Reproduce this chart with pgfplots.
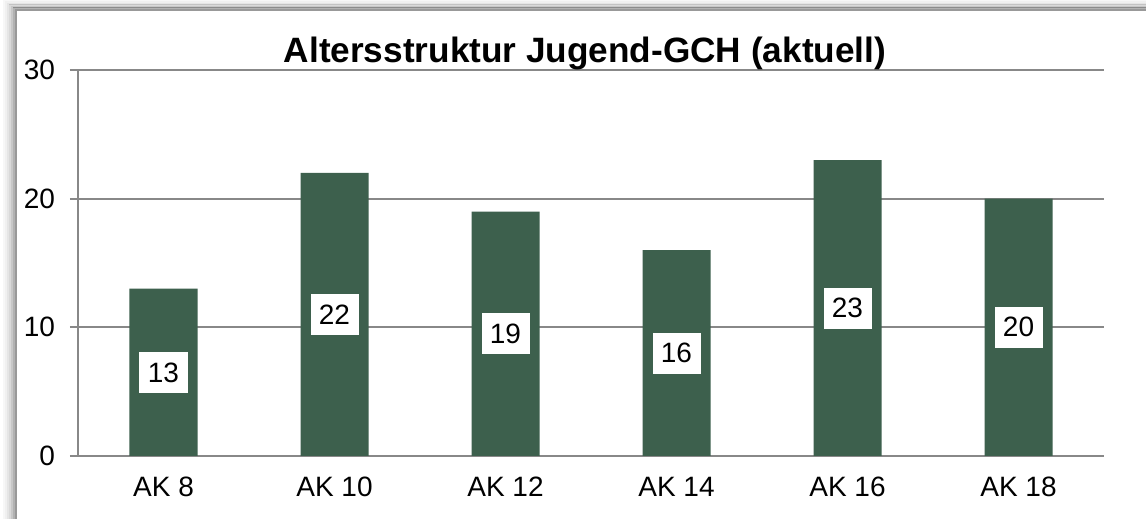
\documentclass[border=0pt]{standalone}
\usepackage{fontspec}
\setmainfont{Liberation Sans}
\usepackage{pgfplots}
\pgfplotsset{compat=1.18}
\definecolor{barc}{RGB}{61,96,77}
\definecolor{gridc}{RGB}{136,136,136}
\begin{document}
\begin{tikzpicture}
\path[use as bounding box] (0pt,0pt) rectangle (573pt,259.5pt);
\foreach \i/\o in {1/0.30,2/0.22,3/0.15,4/0.10,5/0.06,6/0.03}{
  \draw[black, opacity=\o, line width=1pt] (8pt-\i pt,0pt) -- (8pt-\i pt,254.5pt+0.8*\i pt) -- (573pt,254.5pt+0.8*\i pt);
}
\fill[white] (8pt,0pt) rectangle (573pt,254.5pt);
\draw[gray!80, line width=1pt] (8pt,0pt) -- (8pt,254.5pt) -- (573pt,254.5pt);
\begin{axis}[
  at={(39pt,31.5pt)}, anchor=south west,
  scale only axis, width=513pt, height=193pt,
  xmin=-0.5, xmax=5.5, ymin=0, ymax=30,
  ytick={0,10,20,30},
  xtick={0,...,5},
  xticklabels={AK 8, AK 10, AK 12, AK 14, AK 16, AK 18},
  minor xtick={-0.5,0.5,...,5.5},
  axis x line*=bottom, axis y line*=left,
  axis line style={-, gridc, line width=1pt},
  tick align=outside,
  major tick length=4pt, minor tick length=4pt,
  tick style={gridc, line width=1pt},
  xtick style={draw=none},
  minor x tick style={gridc, line width=1pt},
  ymajorgrids=true,
  grid style={gridc, line width=1pt},
  /pgf/number format/assume math mode=true,
  ticklabel style={font=\fontsize{14}{16}\selectfont, text=black},
  yticklabel style={xshift=-4pt},
  xticklabel style={yshift=-3pt},
  title={Altersstruktur Jugend-GCH (aktuell)},
  every axis title shift=0pt,
  title style={font=\bfseries\fontsize{17.6}{21}\selectfont, at={(rel axis cs:0.5,1)}, anchor=base, yshift=3.5pt, xshift=-3pt},
]
\addplot[ybar, bar width=34pt, fill=barc, draw=none] coordinates {(0,13) (1,22) (2,19) (3,16) (4,23) (5,20)};
\addplot[draw=none, mark=none, nodes near coords, point meta=explicit symbolic,
  nodes near coords style={anchor=center, fill=white, text=black, minimum width=24pt, minimum height=20.5pt, inner sep=0pt, font=\fontsize{14}{16}\selectfont}]
  coordinates {(0,6.5)[13] (1,11)[22] (2,9.5)[19] (3,8)[16] (4,11.5)[23] (5,10)[20]};
\end{axis}
\end{tikzpicture}
\end{document}
